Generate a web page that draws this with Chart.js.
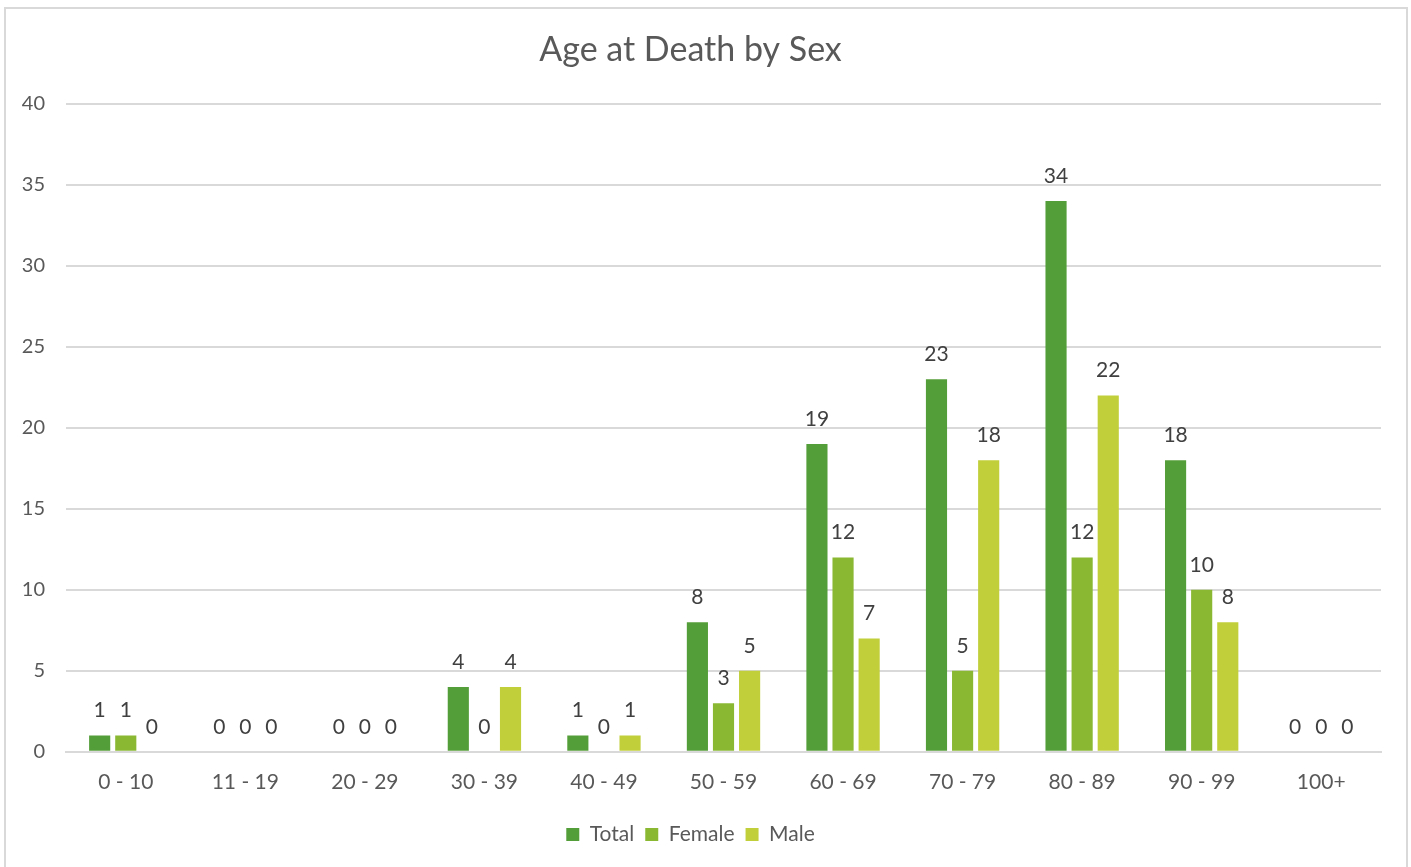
<!DOCTYPE html>
<html>
<head>
<meta charset="utf-8">
<title>Age at Death by Sex</title>
<script src="https://cdn.jsdelivr.net/npm/chart.js@4.4.1/dist/chart.umd.min.js"></script>
<style>
  html, body { margin: 0; padding: 0; background: #fff; }
  #frame { position: absolute; left: 4px; top: 7px; width: 1404px; height: 870px; border: 2px solid #d9d9d9; box-sizing: border-box; }
  #chart { position: absolute; left: 0; top: 0; }
</style>
</head>
<body>
<div id="frame"></div>
<canvas id="chart" width="1411" height="867"></canvas>
<script>
const ageGroups = ["0 - 10", "11 - 19", "20 - 29", "30 - 39", "40 - 49", "50 - 59", "60 - 69", "70 - 79", "80 - 89", "90 - 99", "100+"];
const totalDeaths = [1, 0, 0, 4, 1, 8, 19, 23, 34, 18, 0];
const femaleDeaths = [1, 0, 0, 0, 0, 3, 12, 5, 12, 10, 0];
const maleDeaths = [0, 0, 0, 4, 1, 5, 7, 18, 22, 8, 0];
const yTicks = [0, 5, 10, 15, 20, 25, 30, 35, 40];

const FONT = "Lato, 'Open Sans', sans-serif";
const TEXT = "#595959";
const GRID = "#d9d9d9";

// values above each bar, like the spreadsheet data labels
const barValueLabels = {
  id: "barValueLabels",
  afterDatasetsDraw(chart) {
    const { ctx } = chart;
    ctx.save();
    ctx.font = `21px ${FONT}`;
    ctx.fillStyle = "#404040";
    ctx.textAlign = "center";
    ctx.textBaseline = "middle";
    chart.data.datasets.forEach((ds, i) => {
      chart.getDatasetMeta(i).data.forEach((bar, j) => {
        ctx.fillText(String(ds.data[j]), bar.x, bar.y - 25);
      });
    });
    ctx.restore();
  },
};

const bars = (label, data, color) => ({
  label,
  data,
  backgroundColor: color,
  borderWidth: 0,
  categoryPercentage: 0.655,
  barPercentage: 0.81,
});

new Chart(document.getElementById("chart"), {
  type: "bar",
  data: {
    labels: ageGroups,
    datasets: [
      bars("Total", totalDeaths, "#549e39"),
      bars("Female", femaleDeaths, "#8ab833"),
      bars("Male", maleDeaths, "#c0cf3a"),
    ],
  },
  options: {
    responsive: false,
    animation: false,
    layout: { padding: { left: 0, right: 30, top: 0, bottom: 12 } },
    scales: {
      x: {
        grid: { display: false, drawTicks: false },
        border: { color: GRID, width: 2 },
        ticks: { color: TEXT, font: { family: FONT, size: 21 }, padding: 18, maxRotation: 0 },
      },
      y: {
        min: 0,
        max: 40,
        afterFit(scale) { scale.width = 66; },
        afterBuildTicks(scale) { scale.ticks = yTicks.map((v) => ({ value: v })); },
        grid: { color: GRID, lineWidth: 2, drawTicks: false },
        border: { display: false },
        ticks: { color: TEXT, font: { family: FONT, size: 20 }, padding: 21 },
      },
    },
    plugins: {
      title: {
        display: true,
        text: "Age at Death by Sex",
        color: TEXT,
        font: { family: FONT, size: 34, weight: "normal" },
        padding: { top: 30, bottom: 33 },
      },
      legend: {
        position: "bottom",
        labels: { color: TEXT, font: { family: FONT, size: 21 }, boxWidth: 13, boxHeight: 13, padding: 11 },
      },
      tooltip: { enabled: false },
    },
  },
  plugins: [barValueLabels],
});
</script>
</body>
</html>
